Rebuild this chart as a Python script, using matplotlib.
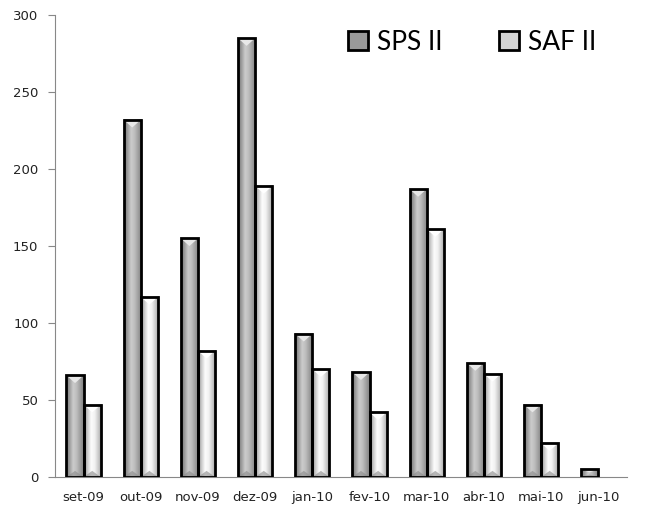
import numpy as np
import matplotlib.pyplot as plt
from matplotlib.patches import Rectangle, Polygon, Patch

months = ['set-09', 'out-09', 'nov-09', 'dez-09', 'jan-10', 'fev-10',
          'mar-10', 'abr-10', 'mai-10', 'jun-10']
sps = [66, 232, 155, 285, 93, 68, 187, 74, 47, 5]
saf = [47, 117, 82, 189, 70, 42, 161, 67, 22, 0]

# horizontal shading profiles (grey levels across the bar width)
def profile(levels):
    pos = np.linspace(0, 1, len(levels))
    t = np.linspace(0, 1, 64)
    g = np.interp(t, pos, levels)
    return np.dstack([g, g, g]).reshape(1, -1, 3)

sps_shade = profile([0.45, 0.62, 0.80, 0.74, 0.62, 0.50])
saf_shade = profile([0.55, 0.80, 0.99, 0.95, 0.80, 0.62])

fig = plt.figure(figsize=(6.52, 5.11), dpi=100)
ax = fig.add_axes([0.0844, 0.0665, 0.877, 0.904])

w = 0.3
x = np.arange(len(months))


def shaded_bar(xc, h, shade, top_col):
    if h <= 0:
        return
    x0, x1 = xc - w / 2, xc + w / 2
    ax.imshow(shade, extent=(x0, x1, 0, h), aspect='auto', zorder=2,
              interpolation='bilinear')
    bev = min(5, h * 0.4)
    ax.add_patch(Polygon([(x0, h), (x1, h), (xc, h - bev)], closed=True,
                         facecolor=top_col, edgecolor='none', zorder=3))
    ax.add_patch(Polygon([(x0, 0), (x1, 0), (xc, bev * 0.8)], closed=True,
                         facecolor='#8a8a8a', edgecolor='none', zorder=3,
                         alpha=0.6))
    ax.add_patch(Rectangle((x0, 0), w, h, fill=False, edgecolor='black',
                           linewidth=2, zorder=4))


for i in x:
    shaded_bar(i - w / 2, sps[i], sps_shade, '#e8e8e8')
    shaded_bar(i + w / 2, saf[i], saf_shade, '#ffffff')

ax.set_xlim(-0.5, len(months) - 0.5)
ax.set_ylim(0, 300)
ax.set_yticks(range(0, 301, 50))
ax.set_xticks(x)
ax.set_xticklabels(months)
ax.tick_params(axis='x', length=0, pad=10, labelsize=9.5, labelcolor='#222222')
ax.tick_params(axis='y', length=5, color='#888888', pad=7, labelsize=9.5,
               labelcolor='#222222')
for s in ['top', 'right']:
    ax.spines[s].set_visible(False)
ax.spines['left'].set_color('#888888')
ax.spines['bottom'].set_color('#888888')

handles = [Patch(facecolor='#9a9a9a', edgecolor='black', linewidth=2),
           Patch(facecolor='#d4d4d4', edgecolor='black', linewidth=2)]
ax.legend(handles, ['SPS II', 'SAF II'], ncol=2, frameon=False,
          loc='upper left', bbox_to_anchor=(0.471, 1.02),
          prop={'family': 'Lato', 'size': 19},
          handlelength=0.75, handleheight=0.75, handletextpad=0.35,
          columnspacing=2.15)

fig.savefig('out.png', dpi=100)
